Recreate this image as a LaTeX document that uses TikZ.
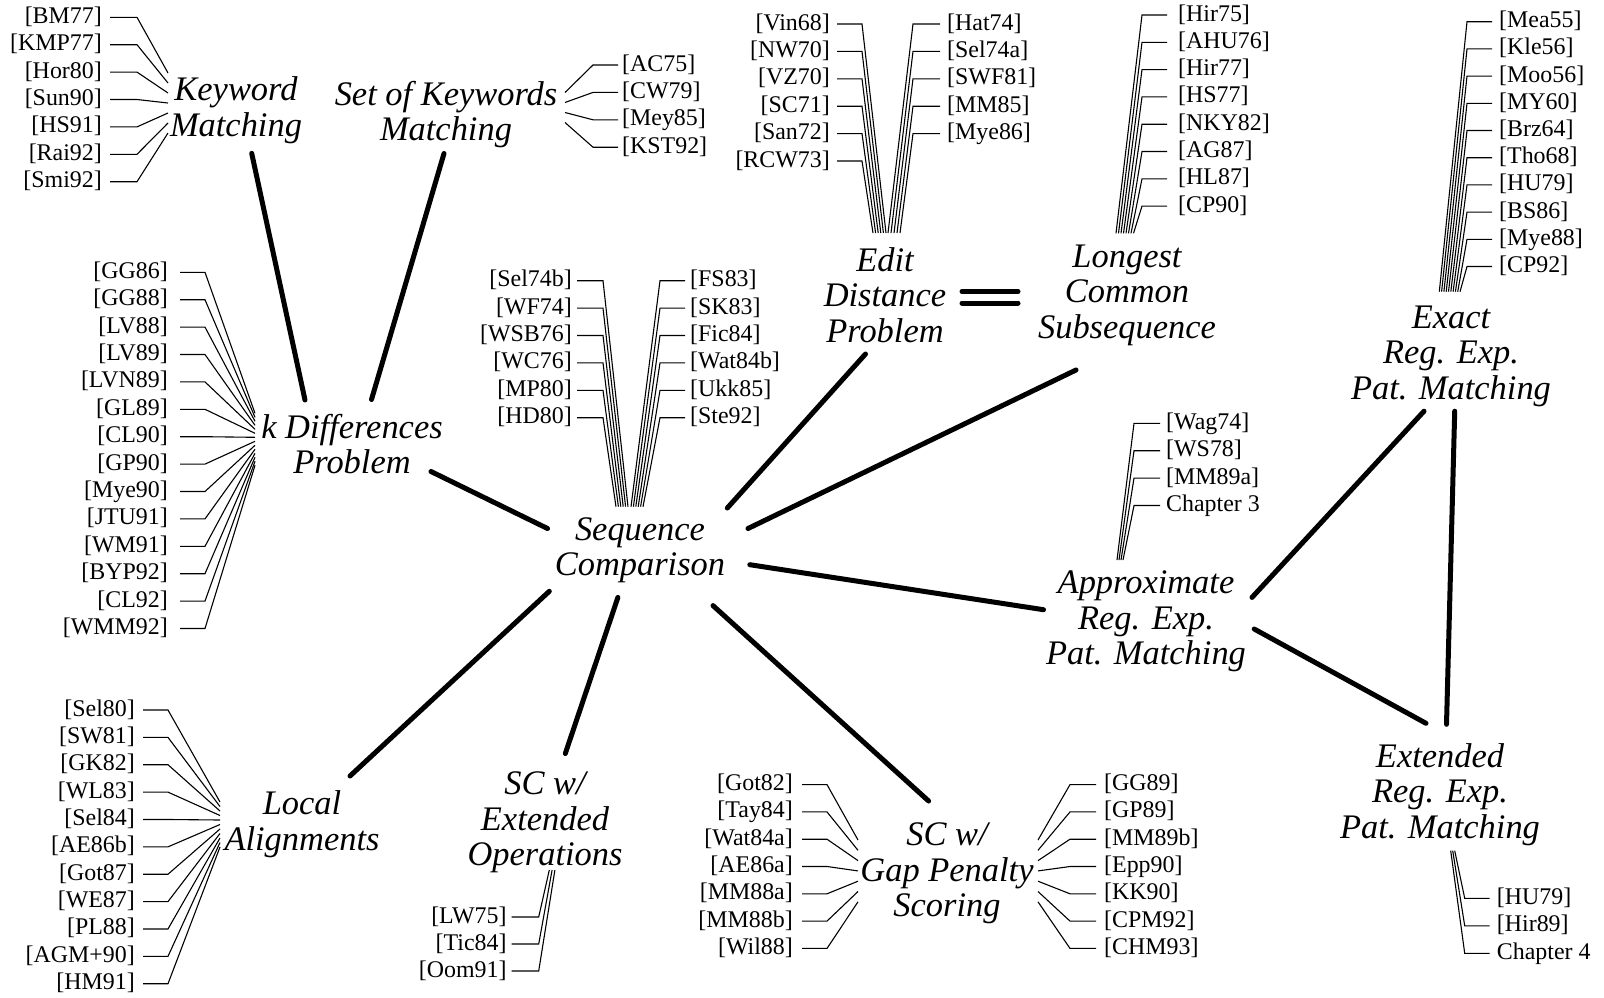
\documentclass[tikz,border=0pt]{standalone}
\usepackage{fontspec}
\setmainfont{Liberation Serif}
\newcommand\citesz{\fontsize{24}{27.4}\selectfont}
\newcommand\topicsz{\fontsize{34.56}{35.5}\selectfont\itshape}
\tikzset{
  cite/.style={font=\citesz, inner sep=0pt, text height=16.5bp, text depth=4.5bp},
  topic/.style={font=\topicsz, align=center, inner sep=0pt,
    execute at begin node=\strut, execute at end node=\strut},
  link/.style={line width=5bp, line cap=round},
  ref/.style={line width=1.1bp},
}
\begin{document}
\begin{tikzpicture}[x=1bp,y=-1bp]
\useasboundingbox (0,0) rectangle (1604,997);

% topics
\node[topic] (kw)  at (236,112)  {Keyword\\Matching};
\node[topic] (skw) at (446,116)  {Set of Keywords\\Matching};
\node[topic] (kd)  at (352,449)  {k Differences\\Problem};
\node[topic] (ed)  at (885,300)  {Edit\\Distance\\Problem};
\node[topic] (lcs) at (1127,297) {Longest\\Common\\Subsequence};
\node[topic] (ex)  at (1451,358) {Exact\\Reg. Exp.\\Pat. Matching};
\node[topic] (sc)  at (640,552)  {Sequence\\Comparison};
\node[topic] (ap)  at (1146,623) {Approximate\\Reg. Exp.\\Pat. Matching};
\node[topic] (xt)  at (1440,796) {Extended\\Reg. Exp.\\Pat. Matching};
\node[topic] (la)  at (302,826)  {Local\\Alignments};
\node[topic] (so)  at (545,824)  {SC w/\\Extended\\Operations};
\node[topic] (gp)  at (947,875)  {SC w/\\Gap Penalty\\Scoring};

% relations between topics
\draw[link] ([shift={(15.7,41.3)}]kw.center) -- ([shift={(-47,-49)}]kd.center);
\draw[link] ([shift={(-2,37.5)}]skw.center) -- ([shift={(19.5,-49.5)}]kd.center);
\draw[link] ([shift={(79,22.5)}]kd.center) -- ([shift={(-92.5,-23.5)}]sc.center);
\draw[link] ([shift={(-19.5,54)}]ed.center) -- ([shift={(87.3,-44)}]sc.center);
\draw[link] ([shift={(-51,73)}]lcs.center) -- ([shift={(108,-23.5)}]sc.center);
\draw[link] ([shift={(109.8,12.7)}]sc.center) -- ([shift={(-102.5,-13.3)}]ap.center);
\draw[link] ([shift={(-90.7,39.3)}]sc.center) -- ([shift={(48,-50)}]la.center);
\draw[link] ([shift={(-22.1,45.4)}]sc.center) -- ([shift={(20.3,-70.5)}]so.center);
\draw[link] ([shift={(73,53.6)}]sc.center) -- ([shift={(-18.4,-74)}]gp.center);
\draw[link] ([shift={(106,-25.6)}]ap.center) -- ([shift={(-27,53.2)}]ex.center);
\draw[link] ([shift={(108.2,6)}]ap.center) -- ([shift={(-14,-72.7)}]xt.center);
\draw[link] ([shift={(3.7,53.2)}]ex.center) -- ([shift={(6.5,-71.7)}]xt.center);
% equivalence sign
\draw[link] ([shift={(77,-8.5)}]ed.center) -- ([shift={(-109,-5.5)}]lcs.center);
\draw[link] ([shift={(77,3)}]ed.center) -- ([shift={(-109,6)}]lcs.center);

% Keyword Matching references
\foreach \t [count=\i] in {BM77,KMP77,Hor80,Sun90,HS91,Rai92,Smi92}{
  \node[cite,anchor=east] (kwr\i) at (102,{17.3+27.4*(\i-1)}) {[\t]};
  \draw[ref] ([xshift=8bp]kwr\i.east) -- ++(27,0) -- ([shift={(-68,{-39+10*(\i-1)})}]kw.center);
}
% Set of Keywords Matching references
\foreach \t [count=\i] in {AC75,CW79,Mey85,KST92}{
  \node[cite,anchor=west] (skr\i) at (622,{65+27.4*(\i-1)}) {[\t]};
  \draw[ref] ([xshift=-4bp]skr\i.west) -- ++(-25,0) -- ([shift={(119,{-23.5+10*(\i-1)})}]skw.center);
}
% k Differences references
\foreach \t [count=\i] in {GG86,GG88,LV88,LV89,LVN89,GL89,CL90,GP90,Mye90,JTU91,WM91,BYP92,CL92,WMM92}{
  \node[cite,anchor=east] (kdr\i) at (168,{272.3+27.4*(\i-1)}) {[\t]};
  \draw[ref] ([xshift=12bp]kdr\i.east) -- ++(25,0) -- ([shift={(-97,{-35.7+4*(\i-1)})}]kd.center);
}
% Edit Distance references
\foreach \t [count=\i] in {Vin68,NW70,VZ70,SC71,San72,RCW73}{
  \node[cite,anchor=east] (edl\i) at (830,{24+27.4*(\i-1)}) {[\t]};
  \draw[ref] ([xshift=7bp]edl\i.east) -- ++(25,0) -- ([shift={({1-2.6*(\i-1)},-67)}]ed.center);
}
\foreach \t [count=\i] in {Hat74,Sel74a,SWF81,MM85,Mye86}{
  \node[cite,anchor=west] (edr\i) at (947,{24+27.4*(\i-1)}) {[\t]};
  \draw[ref] ([xshift=-7bp]edr\i.west) -- ++(-27,0) -- ([shift={({3+3*(\i-1)},-67)}]ed.center);
}
% Sequence Comparison references
\foreach \t [count=\i] in {Sel74b,WF74,WSB76,WC76,MP80,HD80}{
  \node[cite,anchor=east] (scl\i) at (572,{280.7+27.4*(\i-1)}) {[\t]};
  \draw[ref] ([xshift=5bp]scl\i.east) -- ++(26,0) -- ([shift={({-12-2.4*(\i-1)},-45.3)}]sc.center);
}
\foreach \t [count=\i] in {FS83,SK83,Fic84,Wat84b,Ukk85,Ste92}{
  \node[cite,anchor=west] (scr\i) at (690,{280.7+27.4*(\i-1)}) {[\t]};
  \draw[ref] ([xshift=-5bp]scr\i.west) -- ++(-25,0) -- ([shift={({-9+2.4*(\i-1)},-45.3)}]sc.center);
}
% Longest Common Subsequence references
\foreach \t [count=\i] in {Hir75,AHU76,Hir77,HS77,NKY82,AG87,HL87,CP90}{
  \node[cite,anchor=west] (lcr\i) at (1178,{15+27.3*(\i-1)}) {[\t]};
  \draw[ref] ([xshift=-11bp]lcr\i.west) -- ++(-25,0) -- ([shift={({-11+2.5*(\i-1)},-63.7)}]lcs.center);
}
% Exact Reg. Exp. references
\foreach \t [count=\i] in {Mea55,Kle56,Moo56,MY60,Brz64,Tho68,HU79,BS86,Mye88,CP92}{
  \node[cite,anchor=west] (exr\i) at (1499,{21.7+27.2*(\i-1)}) {[\t]};
  \draw[ref] ([xshift=-7bp]exr\i.west) -- ++(-25,0) -- ([shift={({-11.7+2.3*(\i-1)},-66.3)}]ex.center);
}
% Approximate Reg. Exp. references
\foreach \t [count=\i] in {{[Wag74]},{[WS78]},{[MM89a]},{Chapter 3}}{
  \node[cite,anchor=west] (apr\i) at (1166,{423.3+27.4*(\i-1)}) {\t};
  \draw[ref] ([xshift=-6bp]apr\i.west) -- ++(-26,0) -- ([shift={({-29+2*(\i-1)},-63)}]ap.center);
}
% Extended Reg. Exp. references
\foreach \t [count=\i] in {{[HU79]},{[Hir89]},{Chapter 4}}{
  \node[cite,anchor=west] (xtr\i) at (1496.7,{898.3+27.5*(\i-1)}) {\t};
  \draw[ref] ([xshift=-7bp]xtr\i.west) -- ++(-25,0) -- ([shift={({14.7-2*(\i-1)},54.7)}]xt.center);
}
% Local Alignments references
\foreach \t [count=\i] in {Sel80,SW81,GK82,WL83,Sel84,AE86b,Got87,WE87,PL88,AGM+90,HM91}{
  \node[cite,anchor=east] (lal\i) at (135,{710+27.37*(\i-1)}) {[\t]};
  \draw[ref] ([xshift=8bp]lal\i.east) -- ++(25,0) -- ([shift={(-82,{-24+4.5*(\i-1)})}]la.center);
}
% Extended Operations references
\foreach \t [count=\i] in {LW75,Tic84,Oom91}{
  \node[cite,anchor=east] (sol\i) at (506.7,{917+27*(\i-1)}) {[\t]};
  \draw[ref] ([xshift=5bp]sol\i.east) -- ++(27,0) -- ([shift={({4.3+2.8*(\i-1)},46)}]so.center);
}
% Gap Penalty Scoring references
\foreach \t [count=\i] in {Got82,Tay84,Wat84a,AE86a,MM88a,MM88b,Wil88}{
  \node[cite,anchor=east] (gpl\i) at (793,{784.6+27.3*(\i-1)}) {[\t]};
  \draw[ref] ([xshift=9bp]gpl\i.east) -- ++(25,0) -- ([shift={(-89,{-35+10.3*(\i-1)})}]gp.center);
}
\foreach \t [count=\i] in {GG89,GP89,MM89b,Epp90,KK90,CPM92,CHM93}{
  \node[cite,anchor=west] (gpr\i) at (1104,{784.6+27.3*(\i-1)}) {[\t]};
  \draw[ref] ([xshift=-8bp]gpr\i.west) -- ++(-26,0) -- ([shift={(91,{-35+10.3*(\i-1)})}]gp.center);
}
\end{tikzpicture}
\end{document}
